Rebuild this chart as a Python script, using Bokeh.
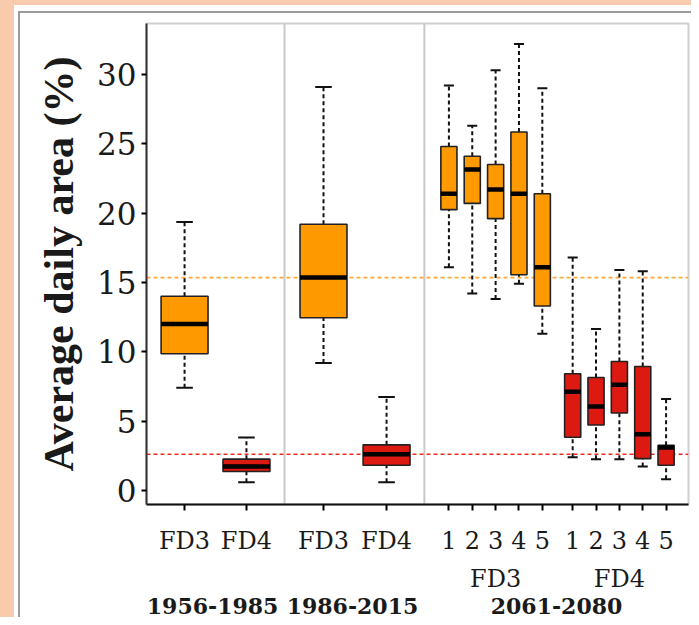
from bokeh.plotting import figure
from bokeh.models import (ColumnDataSource, Span, FixedTicker, Range1d, LinearAxis,
                          CustomJSTickFormatter)
from bokeh.embed import file_html
from bokeh.resources import INLINE

# ---------------- data ----------------
periods = ["1956-1985", "1986-2015", "2061-2080"]
box_labels = ["FD3", "FD4", "FD3", "FD4",
              "1", "2", "3", "4", "5",
              "1", "2", "3", "4", "5"]
groups = ["FD3", "FD4"]
series = ["FD3", "FD4", "FD3", "FD4",
          "FD3", "FD3", "FD3", "FD3", "FD3",
          "FD4", "FD4", "FD4", "FD4", "FD4"]
whisker_low = [7.4, 0.6, 9.2, 0.6, 16.1, 14.2, 13.8, 14.9, 11.3, 2.4, 2.25, 2.25, 1.73, 0.81]
q1          = [9.86, 1.37, 12.45, 1.82, 20.25, 20.7, 19.6, 15.55, 13.3, 3.84, 4.72, 5.59, 2.3, 1.82]
median      = [12.0, 1.73, 15.35, 2.62, 21.4, 23.15, 21.7, 21.4, 16.1, 7.12, 6.06, 7.63, 4.05, 3.1]
q3          = [14.0, 2.26, 19.2, 3.29, 24.8, 24.1, 23.5, 25.85, 21.4, 8.42, 8.15, 9.3, 8.94, 3.26]
whisker_high = [19.35, 3.82, 29.1, 6.74, 29.2, 26.3, 30.3, 32.2, 29.0, 16.8, 11.65, 15.9, 15.8, 6.6]
ref_fd3 = 15.35
ref_fd4 = 2.61
y_ticks = [0, 5, 10, 15, 20, 25, 30]

# ---------------- layout (positions / sizes / styles) ----------------
pos = [1.63, 4.28, 7.58, 10.28] + [12.95 + i for i in range(5)] + [18.25 + i for i in range(5)]
box_w = [2.01] * 4 + [0.69] * 10
cap_w = [0.71] * 4 + [0.43] * 10
fill = {"FD3": "#FF9900", "FD4": "#DC1A12"}
colors = [fill[s] for s in series]
separators = [5.91, 11.9]
group_x = [14.95, 20.25]
period_x = [2.83, 8.82, 17.56]
SERIF = "DejaVu Serif"
TXT = "#1a1a1a"


def label_formatter(xs, labels):
    return CustomJSTickFormatter(args=dict(xs=xs, labels=labels), code="""
        for (let i = 0; i < xs.length; i++) {
            if (Math.abs(tick - xs[i]) < 1e-6) { return labels[i]; }
        }
        return "";
    """)


p = figure(width=691, height=617, output_backend="svg", toolbar_location=None,
           x_range=Range1d(0, 23.21), y_range=Range1d(-1.01, 33.67),
           min_border_left=146, min_border_right=3, min_border_top=23, min_border_bottom=113)
p.border_fill_color = None
p.styles = {
    "background-color": "white",
    "background-image": ("linear-gradient(#9a9a9a,#9a9a9a), linear-gradient(#9a9a9a,#9a9a9a), "
                         "linear-gradient(#F8CBAD,#F8CBAD), linear-gradient(#F8CBAD,#F8CBAD)"),
    "background-size": "2px 100%, 100% 2px, 14px 100%, 100% 5px",
    "background-position": "18px 11px, 18px 11px, 0px 0px, 0px 0px",
    "background-repeat": "no-repeat",
}
p.background_fill_color = "white"
p.outline_line_color = "#d0d0d0"
p.outline_line_width = 2
p.grid.visible = False

# y axis
ya = p.yaxis[0]
ya.ticker = FixedTicker(ticks=y_ticks)
ya.major_label_text_font = SERIF
ya.major_label_text_font_size = "31px"
ya.major_label_text_color = TXT
ya.major_label_standoff = 5
ya.axis_line_color = "#333333"
ya.axis_line_width = 2
ya.major_tick_out = 5
ya.major_tick_in = 0
ya.major_tick_line_width = 2
ya.minor_tick_out = 0
ya.minor_tick_in = 0
ya.axis_label = "Average daily area (%)"
ya.axis_label_text_font = "Liberation Serif"
ya.axis_label_text_font_style = "bold"
ya.axis_label_text_font_size = "42px"
ya.axis_label_text_color = TXT
ya.axis_label_standoff = 12

# x axis: ticks + box labels
xa = p.xaxis[0]
xa.ticker = FixedTicker(ticks=pos)
xa.formatter = label_formatter(pos, box_labels)
xa.major_label_text_font = SERIF
xa.major_label_text_font_size = "24px"
xa.major_label_text_color = TXT
xa.major_label_standoff = 16
xa.axis_line_color = "#111111"
xa.axis_line_width = 2
xa.major_tick_out = 6
xa.major_tick_in = 0
xa.major_tick_line_width = 2
xa.minor_tick_out = 0
xa.minor_tick_in = 0

# second row: group labels
xa2 = LinearAxis(ticker=FixedTicker(ticks=group_x), formatter=label_formatter(group_x, groups))
xa2.axis_line_color = None
xa2.major_tick_line_color = None
xa2.minor_tick_line_color = None
xa2.major_tick_out = 0
xa2.major_tick_in = 0
xa2.minor_tick_out = 0
xa2.minor_tick_in = 0
xa2.major_label_text_font = SERIF
xa2.major_label_text_font_size = "24px"
xa2.major_label_text_color = TXT
xa2.major_label_standoff = 7
p.add_layout(xa2, "below")

# third row: period labels
xa3 = LinearAxis(ticker=FixedTicker(ticks=period_x), formatter=label_formatter(period_x, periods))
xa3.axis_line_color = None
xa3.major_tick_line_color = None
xa3.minor_tick_line_color = None
xa3.major_tick_out = 0
xa3.major_tick_in = 0
xa3.minor_tick_out = 0
xa3.minor_tick_in = 0
xa3.major_label_text_font = SERIF
xa3.major_label_text_font_size = "22px"
xa3.major_label_text_font_style = "bold"
xa3.major_label_text_color = TXT
xa3.major_label_standoff = 2
p.add_layout(xa3, "below")

# separators and reference lines
for s in separators:
    p.add_layout(Span(location=s, dimension="height", line_color="#c8c8c8", line_width=2, level="underlay"))
p.add_layout(Span(location=ref_fd3, dimension="width", line_color="#FFA836", line_width=1.6,
                  line_dash="4 3", level="underlay"))
p.add_layout(Span(location=ref_fd4, dimension="width", line_color="#EE2A22", line_width=1.6,
                  line_dash="4 3", level="underlay"))

src = ColumnDataSource(dict(
    x=pos,
    left=[x - w / 2 for x, w in zip(pos, box_w)],
    right=[x + w / 2 for x, w in zip(pos, box_w)],
    cl=[x - w / 2 for x, w in zip(pos, cap_w)],
    cr=[x + w / 2 for x, w in zip(pos, cap_w)],
    lo=whisker_low, q1=q1, med=median, q3=q3, hi=whisker_high, color=colors,
))

# whiskers
p.segment(x0="x", y0="q3", x1="x", y1="hi", source=src, line_color="#111111", line_width=2, line_dash="4 3")
p.segment(x0="x", y0="lo", x1="x", y1="q1", source=src, line_color="#111111", line_width=2, line_dash="4 3")
p.segment(x0="cl", y0="hi", x1="cr", y1="hi", source=src, line_color="#111111", line_width=2)
p.segment(x0="cl", y0="lo", x1="cr", y1="lo", source=src, line_color="#111111", line_width=2)
# boxes
p.quad(left="left", right="right", bottom="q1", top="q3", source=src,
       fill_color="color", line_color="#222222", line_width=1.6)
# medians
p.segment(x0="left", y0="med", x1="right", y1="med", source=src, line_color="black", line_width=4.5,
          line_cap="butt")

open("out.html", "w").write(file_html(p, INLINE))
